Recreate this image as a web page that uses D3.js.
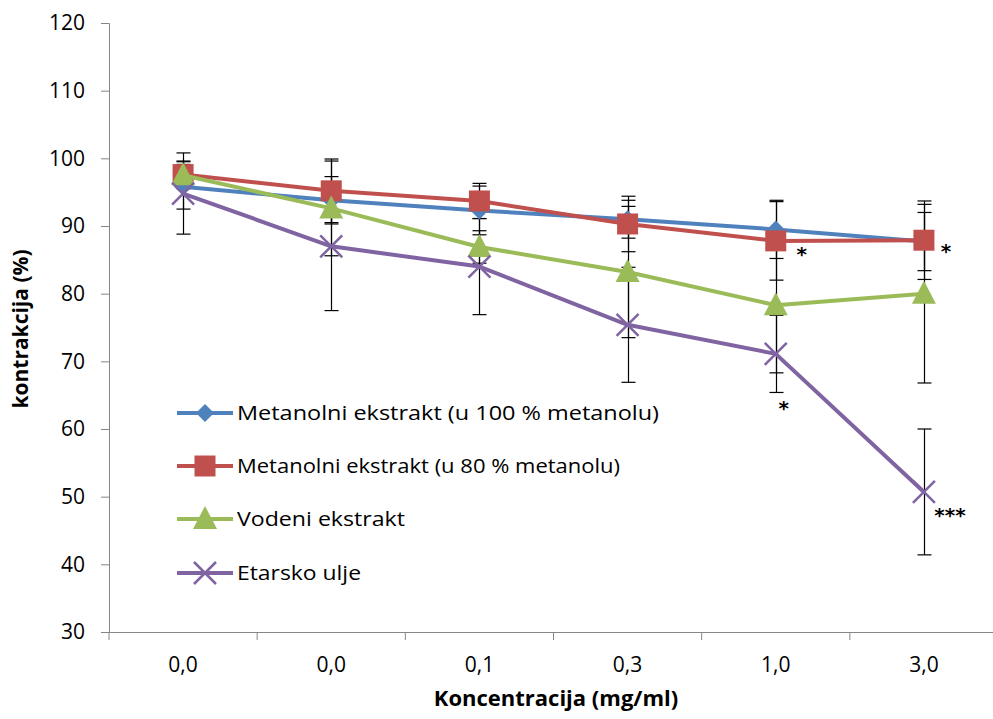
<!DOCTYPE html>
<html><head><meta charset="utf-8">
<script src="https://cdn.jsdelivr.net/npm/d3@7/dist/d3.min.js"></script>
<style>body{margin:0;background:#fff}svg{display:block}</style>
</head><body><svg id="c" width="993" height="719"></svg>
<script>
const categories = ["0,0","0,0","0,1","0,3","1,0","3,0"];
const yTicks = [30,40,50,60,70,80,90,100,110,120];
const seriesNames = ["Metanolni ekstrakt (u 100 % metanolu)","Metanolni ekstrakt (u 80 % metanolu)","Vodeni ekstrakt","Etarsko ulje"];
const met100 = [95.8, 93.8, 92.3, 91.0, 89.5, 87.7];
const met100Err = [3.3, 3.5, 3.6, 2.8, 4.3, 4.3];
const met80 = [97.6, 95.2, 93.7, 90.3, 87.8, 87.9];
const met80Err = [2.0, 4.7, 2.6, 4.1, 5.8, 5.8];
const vodeni = [97.5, 92.6, 86.9, 83.2, 78.3, 80.0];
const vodeniErr = [2.0, 7.0, 2.4, 9.7, 10.0, 13.2];
const etarsko = [94.8, 87.0, 84.0, 75.4, 71.1, 50.7];
const etarskoErr = [6.0, 9.5, 7.1, 8.5, 5.7, 9.3];
const annotations = [
  {i:4, v:84.8, text:"*", dx:26},
  {i:5, v:85.2, text:"*", dx:22},
  {i:4, v:62.0, text:"*", dx:8},
  {i:5, v:46.2, text:"***", dx:26}
];
const colors = ["#4F81BD","#C0504D","#9BBB59","#8064A2"];
const markers = ["diamond","square","triangle","x"];

const series = [
  {name:seriesNames[0], values:met100, err:met100Err},
  {name:seriesNames[1], values:met80, err:met80Err},
  {name:seriesNames[2], values:vodeni, err:vodeniErr},
  {name:seriesNames[3], values:etarsko, err:etarskoErr}
];

const FONT = "'Open Sans', 'Noto Sans', sans-serif";
const svg = d3.select("#c");
const mLeft = 109, mRight = 998, mTop = 23, mBottom = 632;
const x = d3.scaleBand().domain(d3.range(categories.length)).range([mLeft, mRight]);
const y = d3.scaleLinear().domain([30,120]).range([mBottom, mTop]);
const cx = i => x(i) + x.bandwidth()/2;

const g = svg.append("g");

// axes
const yAxis = g.append("g").attr("transform",`translate(${mLeft},0)`)
  .call(d3.axisLeft(y).tickValues(yTicks).tickSize(8).tickPadding(16));
yAxis.select(".domain").attr("stroke","#868686");
yAxis.selectAll(".tick line").attr("stroke","#868686");
yAxis.selectAll("text").attr("font-family",FONT).attr("font-size","21px").attr("fill","#000");

const xAxis = g.append("g").attr("transform",`translate(0,${mBottom})`)
  .call(d3.axisBottom(x).tickValues([]).tickSize(0));
xAxis.select(".domain").attr("stroke","#868686").attr("d",`M${mLeft},0.5H${mRight}`);
g.append("g").selectAll("line").data(d3.range(categories.length+1)).join("line")
  .attr("x1",i=>mLeft + i*x.bandwidth()).attr("x2",i=>mLeft + i*x.bandwidth())
  .attr("y1",mBottom).attr("y2",mBottom+8).attr("stroke","#868686");
g.append("g").selectAll("text").data(categories).join("text")
  .attr("x",(d,i)=>cx(i)).attr("y",mBottom+40).attr("text-anchor","middle")
  .attr("font-family",FONT).attr("font-size","21px")
  .text(d=>d);

// titles
svg.append("text").attr("x",556).attr("y",706).attr("text-anchor","middle")
  .attr("font-family",FONT).attr("font-weight","bold").attr("font-size","22px")
  .text("Koncentracija (mg/ml)");
svg.append("text").attr("transform","translate(28,329) rotate(-90)").attr("text-anchor","middle")
  .attr("font-family",FONT).attr("font-weight","bold").attr("font-size","21px")
  .text("kontrakcija (%)");

// error bars
series.forEach((s,si)=>{
  const eb = g.append("g").attr("stroke","#000").attr("stroke-width",1.2);
  s.values.forEach((v,i)=>{
    const x0 = Math.round(cx(i))+0.5;
    const yt = y(v + s.err[i]), yb = y(v - s.err[i]);
    eb.append("line").attr("x1",x0).attr("x2",x0).attr("y1",yt).attr("y2",yb);
    eb.append("line").attr("x1",x0-7).attr("x2",x0+7).attr("y1",yt).attr("y2",yt);
    eb.append("line").attr("x1",x0-7).attr("x2",x0+7).attr("y1",yb).attr("y2",yb);
  });
});

function drawMarker(sel, type, color, px, py){
  if(type==="diamond"){
    sel.append("path").attr("d",`M${px},${py-9}L${px+9},${py}L${px},${py+9}L${px-9},${py}Z`).attr("fill",color);
  } else if(type==="square"){
    sel.append("rect").attr("x",px-10.5).attr("y",py-10.5).attr("width",21).attr("height",21).attr("fill",color);
  } else if(type==="triangle"){
    sel.append("path").attr("d",`M${px},${py-13}L${px+12},${py+10}L${px-12},${py+10}Z`).attr("fill",color);
  } else {
    sel.append("path").attr("d",`M${px-11},${py-11}L${px+11},${py+11}M${px-11},${py+11}L${px+11},${py-11}`)
      .attr("stroke",color).attr("stroke-width",2.5).attr("fill","none");
  }
}

const line = d3.line().x((d,i)=>cx(i)).y(d=>y(d));
series.forEach((s,si)=>{
  g.append("path").datum(s.values).attr("d",line).attr("fill","none")
    .attr("stroke",colors[si]).attr("stroke-width",4).attr("stroke-linejoin","round");
  const mg = g.append("g");
  s.values.forEach((v,i)=>drawMarker(mg, markers[si], colors[si], cx(i), y(v)));
});

// annotations
g.append("g").selectAll("text").data(annotations).join("text")
  .attr("x",d=>cx(d.i)+d.dx).attr("y",d=>y(d.v)).attr("text-anchor","middle")
  .attr("font-family","'DejaVu Sans',sans-serif").attr("font-size","20px").attr("font-weight","bold")
  .text(d=>d.text);

// legend
const leg = svg.append("g");
const legY = [413, 466, 519, 573];
const legW = [422, 383, 168, 124];
series.forEach((s,si)=>{
  const ly = legY[si];
  leg.append("line").attr("x1",177).attr("x2",233).attr("y1",ly).attr("y2",ly).attr("stroke",colors[si]).attr("stroke-width",4);
  drawMarker(leg, markers[si], colors[si], 205, ly);
  leg.append("text").attr("x",237).attr("y",ly+7).attr("font-family",FONT).attr("font-size","20px")
    .attr("textLength",legW[si]).attr("lengthAdjust","spacingAndGlyphs").text(s.name);
});
</script></body></html>
